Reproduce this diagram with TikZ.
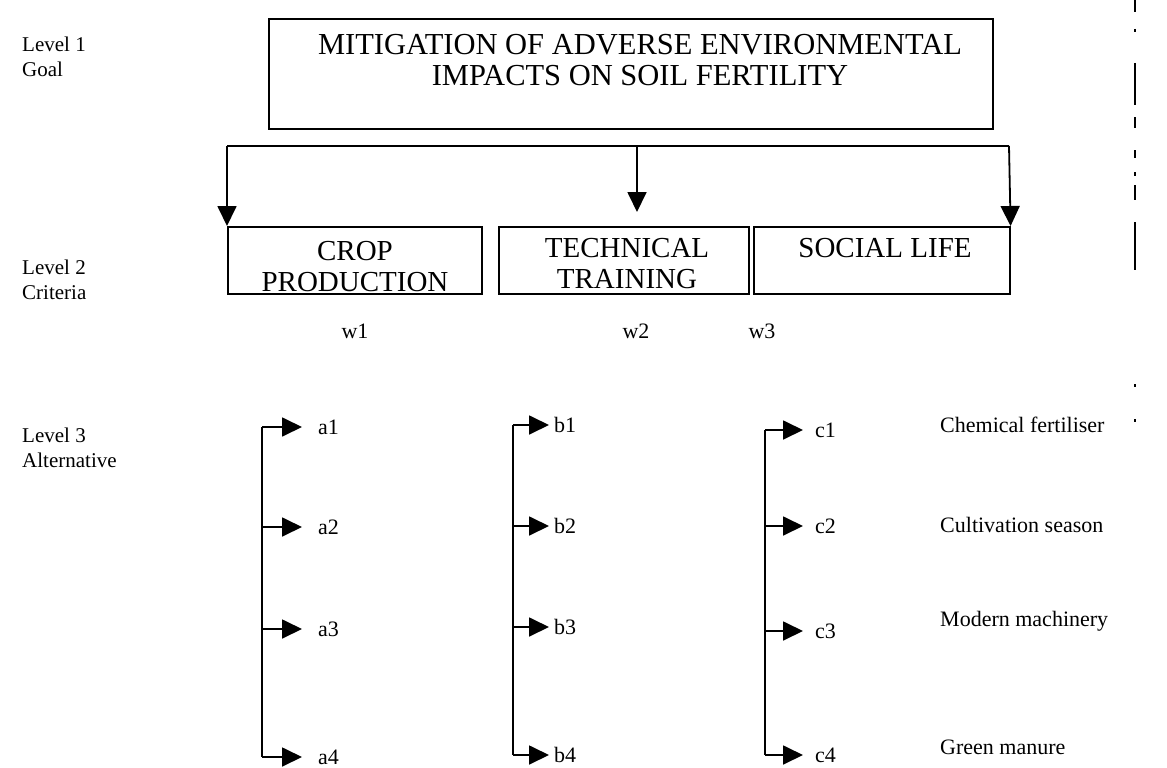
\documentclass[tikz,border=0pt]{standalone}
\usepackage{fontspec}
\setmainfont{Liberation Serif}
\usetikzlibrary{arrows.meta}
\tikzset{
  lbl/.style={font=\fontsize{21}{25}\selectfont, align=left, anchor=west, inner sep=0pt},
  caps/.style={font=\fontsize{29}{31}\selectfont, align=center, inner sep=0pt},
  title/.style={font=\fontsize{30.5}{31}\selectfont, align=center, inner sep=0pt},
  crit/.style={draw, line width=1.6pt, minimum height=67pt, inner sep=0pt},
  leaf/.style={font=\fontsize{22}{26}\selectfont, anchor=west, inner sep=0pt},
  alt/.style={font=\fontsize{22}{26}\selectfont, anchor=west, inner sep=0pt},
  wt/.style={font=\fontsize{22}{26}\selectfont, inner sep=0pt},
  tip/.style={-{Triangle[length=20pt,width=19pt]}, line width=1.8pt},
  trunk/.style={line width=1.8pt},
  scanline/.style={line width=1.6pt}
}
\begin{document}
\begin{tikzpicture}[x=1pt,y=-1pt]
\useasboundingbox (0,0) rectangle (1167,768);

% level captions on the left
\node[lbl] (l1) at (22,57) {Level 1\\Goal};
\node[lbl] (l2) at (22,280) {Level 2\\Criteria};
\node[lbl] (l3) at (22,448) {Level 3\\Alternative};

% goal box
\node[draw, line width=1.6pt, minimum width=724pt, minimum height=110pt, anchor=north west, inner sep=0pt] (goal) at (268,18) {};
\node[title] (goaltxt) at (640,60) {MITIGATION OF ADVERSE ENVIRONMENTAL\\IMPACTS ON SOIL FERTILITY};

% criteria boxes
\node[crit, minimum width=254pt, anchor=north west] (crop) at (227,226) {};
\node[crit, minimum width=250pt, anchor=north west] (tech) at (498,226) {};
\node[crit, minimum width=256pt, anchor=north west] (social) at (753,226) {};
\node[caps] (croptxt) at (355,267) {CROP\\PRODUCTION};
\node[caps] (techtxt) at (627,264) {TECHNICAL\\TRAINING};
\node[caps] (socialtxt) at (885,248) {SOCIAL LIFE};

% distribution line from goal to criteria
\coordinate (hl) at (227,146);
\coordinate (hm) at (637,146);
\coordinate (hr) at (1009,146);
\draw[line width=1.8pt] (hl) -- (hr);
\draw[tip] (hl) -- (crop.north west);
\draw[tip] (hm) -- ([yshift=14pt]hm |- tech.north);
\draw[tip] (hr) -- (social.north east);

% weights
\node[wt] (w1) at (355,331) {w1};
\node[wt] (w2) at (636,331) {w2};
\node[wt] (w3) at (762,331) {w3};

% alternatives under crop production
\node[leaf] (a1) at (318,427) {a1};
\node[leaf] (a2) at (318,527) {a2};
\node[leaf] (a3) at (318,629) {a3};
\node[leaf] (a4) at (318,757) {a4};
\coordinate (at) at (262,427);
\coordinate (ab) at (262,757);
\draw[trunk] (at) -- (ab);
\foreach \n in {a1,a2,a3,a4}
  \draw[tip] (at |- \n.west) -- ([xshift=-16pt]\n.west);

% alternatives under technical training
\node[leaf] (b1) at (554,425) {b1};
\node[leaf] (b2) at (554,526) {b2};
\node[leaf] (b3) at (554,627) {b3};
\node[leaf] (b4) at (554,755) {b4};
\coordinate (bt) at (513,425);
\coordinate (bb) at (513,755);
\draw[trunk] (bt) -- (bb);
\foreach \n in {b1,b2,b3,b4}
  \draw[tip] (bt |- \n.west) -- ([xshift=-5pt]\n.west);

% alternatives under social life
\node[leaf] (c1) at (815,430) {c1};
\node[leaf] (c2) at (815,526) {c2};
\node[leaf] (c3) at (815,631) {c3};
\node[leaf] (c4) at (815,755) {c4};
\coordinate (ct) at (765,430);
\coordinate (cb) at (765,755);
\draw[trunk] (ct) -- (cb);
\foreach \n in {c1,c2,c3,c4}
  \draw[tip] (ct |- \n.west) -- ([xshift=-12pt]\n.west);

% alternative names
\node[alt] (n1) at (940,425) {Chemical fertiliser};
\node[alt] (n2) at (940,525) {Cultivation season};
\node[alt] (n3) at (940,621) {Modern machinery};
\node[alt] (n4) at (940,747) {Green manure};

% broken rule along the right margin
\foreach \ya/\yb in {0/12, 29/32, 63/105, 117/128, 150/158, 172/176, 185/200, 222/270, 384/387, 419/422}
  \draw[scanline] (1135,\ya) -- (1135,\yb);
\end{tikzpicture}
\end{document}
